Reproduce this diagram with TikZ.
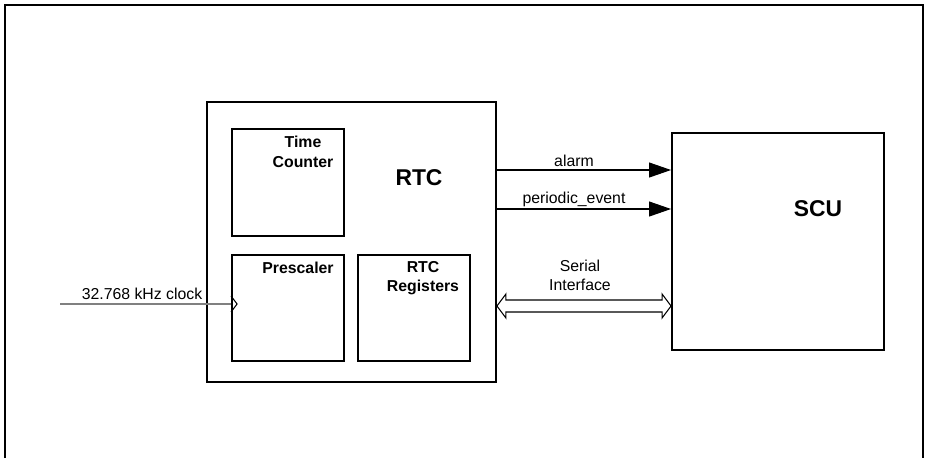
\documentclass[tikz,border=0pt]{standalone}
\usepackage{fontspec}
\setmainfont{Liberation Sans}
\usetikzlibrary{positioning,calc,arrows.meta}

\begin{document}
\begin{tikzpicture}[
        x=0.02cm, y=-0.02cm,
        box/.style={draw, line width=1.1pt, rectangle, inner sep=0pt},
        lbl/.style={font=\fontsize{9}{11}\selectfont\bfseries, align=center, inner sep=0pt},
        biglbl/.style={font=\fontsize{13}{15}\selectfont\bfseries, inner sep=0pt},
        sig/.style={font=\fontsize{9}{11}\selectfont, align=center, inner sep=0pt},
        wire/.style={line width=0.6pt},
        >={Triangle[length=12.5pt, width=8.5pt]}
    ]
    \useasboundingbox (0,0) rectangle (926,458);

    % Outer frame (open at the bottom)
    \draw[line width=1.1pt] (5,458) -- (5,5) -- (923,5) -- (923,458);

    % Blocks
    \node[box, minimum width=5.78cm, minimum height=5.6cm] (rtc) at (351.5,242) {};
    \node[box, minimum width=2.24cm, minimum height=2.14cm] (timecnt) at (288,182.5) {};
    \node[box, minimum width=2.24cm, minimum height=2.12cm] (presc) at (288,308) {};
    \node[box, minimum width=2.24cm, minimum height=2.12cm] (rtcreg) at (414,308) {};
    \node[box, minimum width=4.24cm, minimum height=4.34cm] (scu) at (778,241.5) {};

    % Block labels
    \node[lbl] (timecnt-l) at (303,152) {Time\\Counter};
    \node[biglbl] (rtc-l) at (419,178) {RTC};
    \node[lbl] (presc-l) at (298,268) {Prescaler};
    \node[lbl] (rtcreg-l) at (423,278) {RTC\\Registers};
    \node[biglbl] (scu-l) at (818,209) {SCU};

    % Clock input
    \coordinate (clkin) at (60,304);
    \draw[wire, gray] (clkin) -- (presc.west |- clkin);
    \draw[wire] (presc.west |- 0,296) -- ++(6,8) -- ++(-6,8);
    \node[sig] (clk-l) at (142,294) {32.768 kHz clock};

    % Signals RTC -> SCU
    \draw[wire, ->] (rtc.east |- 0,170) -- (scu.west |- 0,170);
    \node[sig] (alarm-l) at (574,161) {alarm};
    \draw[wire, ->] (rtc.east |- 0,209) -- (scu.west |- 0,209);
    \node[sig] (per-l) at (574,199) {periodic\_event};

    % Serial interface (hollow double arrow)
    \coordinate (sil) at (rtc.east |- 0,306);
    \coordinate (sir) at (scu.west |- 0,306);
    \draw[wire, fill=white] (sil) -- ++(9,-12) -- ++(0,6) -- ($(sir)+(-9,-6)$) -- ++(0,-6)
        -- (sir) -- ++(-9,12) -- ++(0,-6) -- ($(sil)+(9,6)$) -- ++(0,6) -- cycle;
    \node[sig] (ser-l) at (580,275) {Serial\\Interface};
\end{tikzpicture}
\end{document}
